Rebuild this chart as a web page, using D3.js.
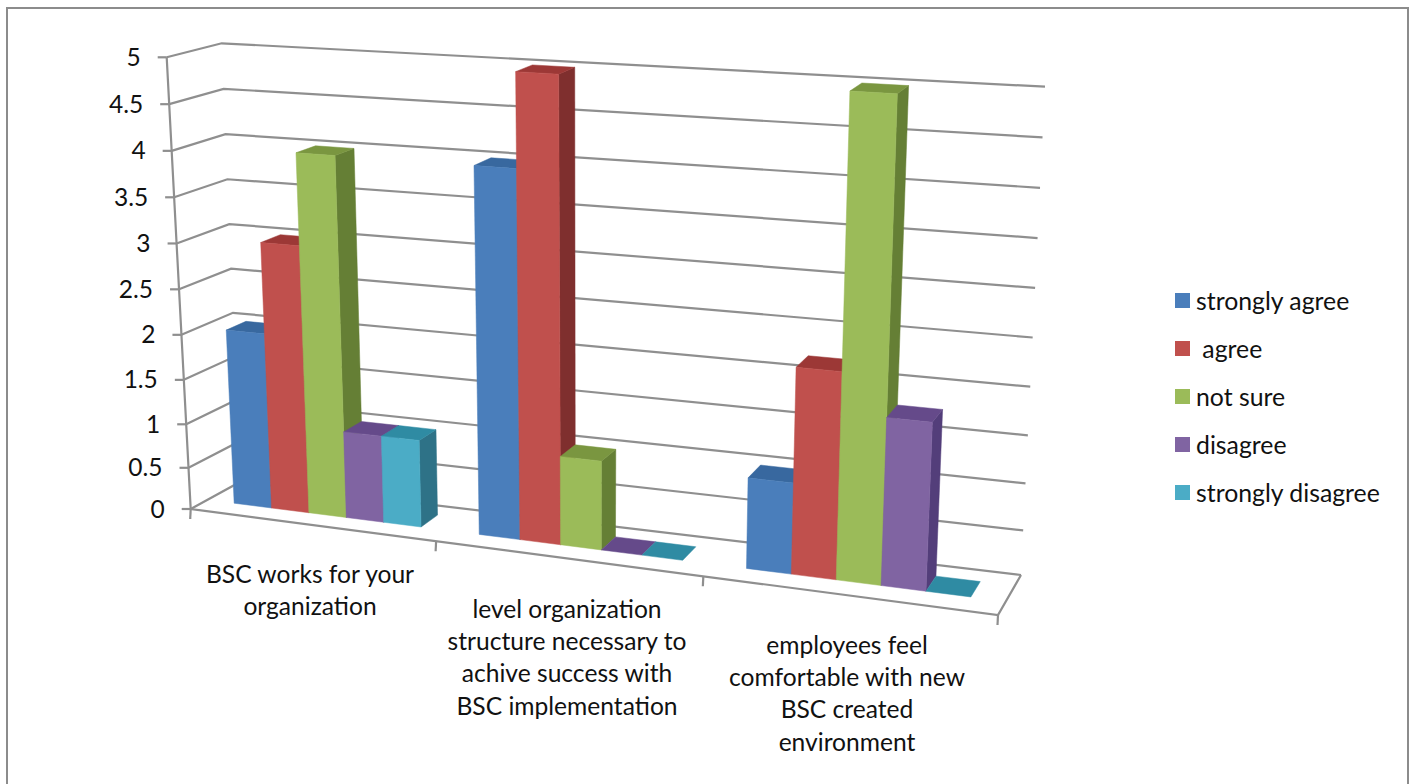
<!DOCTYPE html>
<html><head><meta charset="utf-8">
<script src="https://cdnjs.cloudflare.com/ajax/libs/d3/7.8.5/d3.min.js"></script>
<style>html,body{margin:0;padding:0;background:#fff}svg{display:block}text{font-family:Lato,"Open Sans",sans-serif;fill:#111}</style>
</head><body><svg id="c" width="1416" height="784"></svg>
<script>
const categories=[["BSC works for your","organization"],["level organization","structure necessary to","achive success with","BSC implementation"],["employees feel","comfortable with new","BSC created","environment"]];
const seriesNames=["strongly agree"," agree","not sure","disagree","strongly disagree"];
const stronglyAgree=[2,4,1];
const agree=[3,5,2.2];
const notSure=[4,1,5];
const disagree=[1,0,1.78];
const stronglyDisagree=[1,0,0];
const seriesValues=[stronglyAgree,agree,notSure,disagree,stronglyDisagree];
const yTicks=[0,0.5,1,1.5,2,2.5,3,3.5,4,4.5,5];
const front=["#4a7ebb","#c0504d","#9bbb59","#8064a2","#4bacc6"];
const topc=["#38689f","#9c3836","#7a9640","#654a8a","#2f8ba3"];
const side=["#2f5a8c","#7f2f2e","#657f35","#533e7a","#2e7287"];
const grid="#8f8f8f";

const corners={flb:[190.7,509],frb:[998,615],blb:[240,482],brb:[1021,575],flt:[166.7,57.3],frt:[1021,109],blt:[221.7,43.3],brt:[1045,86.7]};
const uScale=d3.scaleLinear().domain([0,1,2,3]).range([0,0.304,0.635,1]);
const vScale=d3.scalePow().exponent(1.04).domain([0,5]).range([0,1]);
const barScale=d3.scaleBand().domain(d3.range(5)).range([0.11,0.88]);
const wFront=0.34,wBack=0.73;
function P(cat,val,w){
  const u=uScale(cat),v=vScale(val),c=corners;
  const mix=(a,b,t)=>[a[0]+(b[0]-a[0])*t,a[1]+(b[1]-a[1])*t];
  const fb=mix(c.flb,c.frb,u),ft=mix(c.flt,c.frt,u),bb=mix(c.blb,c.brb,u),bt=mix(c.blt,c.brt,u);
  return mix(mix(fb,ft,v),mix(bb,bt,v),w);
}
const svg=d3.select("#c");
const line=d3.line();
// frame
svg.append("path").attr("d","M7,784V8H1408V784").attr("fill","none").attr("stroke","#8c8c8c").attr("stroke-width",2);
// walls
const g=svg.append("g").attr("fill","none").attr("stroke",grid).attr("stroke-width",2.2);
yTicks.forEach(t=>{
  g.append("path").attr("d",line([P(0,t,0),P(0,t,1),P(3,t,1)]));
  const a=P(0,t,0);
  g.append("path").attr("d",line([[a[0]-9,a[1]],a]));
  svg.append("text").attr("x",a[0]-26).attr("y",a[1]+8.5).attr("text-anchor","end").attr("font-size",24.5).text(t);
});
g.append("path").attr("d",line([P(0,5,0),P(0,0,0),P(3,0,0),P(3,0,1)]));
d3.range(4).forEach(i=>{const a=P(i,0,0);g.append("path").attr("d",line([a,[a[0]-0.5,a[1]+10]]));});
// bars
const bars=svg.append("g");
categories.forEach((_,ci)=>{
  seriesValues.forEach((vals,si)=>{
    const x0=ci+barScale(si),x1=x0+barScale.bandwidth(),val=vals[ci];
    const poly=(pts,col)=>bars.append("path").attr("d",line(pts)+"Z").attr("fill",col).attr("stroke",col).attr("stroke-width",0.5);
    if(val>0){
      poly([P(x1,0,wFront),P(x1,0,wBack),P(x1,val,wBack),P(x1,val,wFront)],side[si]);
      poly([P(x0,val,wFront),P(x1,val,wFront),P(x1,val,wBack),P(x0,val,wBack)],topc[si]);
      poly([P(x0,0,wFront),P(x1,0,wFront),P(x1,val,wFront),P(x0,val,wFront)],front[si]);
    } else {
      poly([P(x0,0,wFront),P(x1,0,wFront),P(x1,0,wBack),P(x0,0,wBack)],topc[si]);
    }
  });
});
// category labels
const labelX=[310,567,847],labelY=[583,618,654];
categories.forEach((lines,i)=>lines.forEach((l,j)=>{
  svg.append("text").attr("x",labelX[i]).attr("y",labelY[i]+j*32.2).attr("text-anchor","middle").attr("font-size",24.6).text(l);
}));
// legend
const legY=d3.scaleLinear().domain([0,4]).range([293,485]);
seriesNames.forEach((n,i)=>{
  svg.append("rect").attr("x",1175).attr("y",legY(i)).attr("width",15).attr("height",15).attr("fill",front[i]);
  svg.append("text").attr("x",1196).attr("y",legY(i)+16.5).attr("font-size",24.8).attr("xml:space","preserve").style("white-space","pre").text(n);
});
</script></body></html>
